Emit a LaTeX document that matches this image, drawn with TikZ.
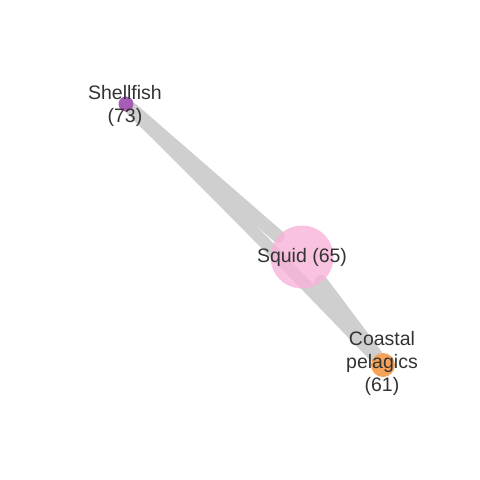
\documentclass[tikz,border=0pt]{standalone}
\usepackage{fontspec}
\setmainfont{Liberation Sans}
\usetikzlibrary{backgrounds}

\definecolor{shellcol}{RGB}{165,93,181}
\definecolor{squidcol}{RGB}{246,179,216}
\definecolor{coastcol}{RGB}{245,163,88}
\definecolor{edgecol}{RGB}{207,207,207}
\definecolor{labcol}{RGB}{51,51,51}

\begin{document}
\begin{tikzpicture}[x=1pt, y=-1pt,
	spe/.style={circle, inner sep=0pt, draw=none},
	edge/.style={edgecol, line cap=round},
	lab/.style={text=labcol, align=center, font=\fontsize{19.5}{23}\selectfont}]
				\useasboundingbox (0,0) rectangle (480,480);
				\node[spe, fill=squidcol, fill opacity=0.8, minimum size=63pt] (Sq) at (302,257) {};
				\node[spe, fill=shellcol, minimum size=15pt] (Sh) at (126,104) {};
				\node[spe, fill=coastcol, minimum size=24pt] (Cp) at (383,365) {};
				
				\begin{scope}[on background layer]
				\draw[edge, line width=12pt] (Sh) to[bend left=0.7] (Cp);
				\draw[edge, line width=13pt] (Sh) -- (Sq);
				\draw[edge, line width=14pt] (Sq) -- (Cp);
				\end{scope}
				
				\node[lab] (ShL) at (125,106) {Shellfish\\(73)};
				\node[lab] (SqL) at (302,257) {Squid (65)};
				\node[lab] (CpL) at (382,363) {Coastal\\pelagics\\(61)};
			\end{tikzpicture}
\end{document}
